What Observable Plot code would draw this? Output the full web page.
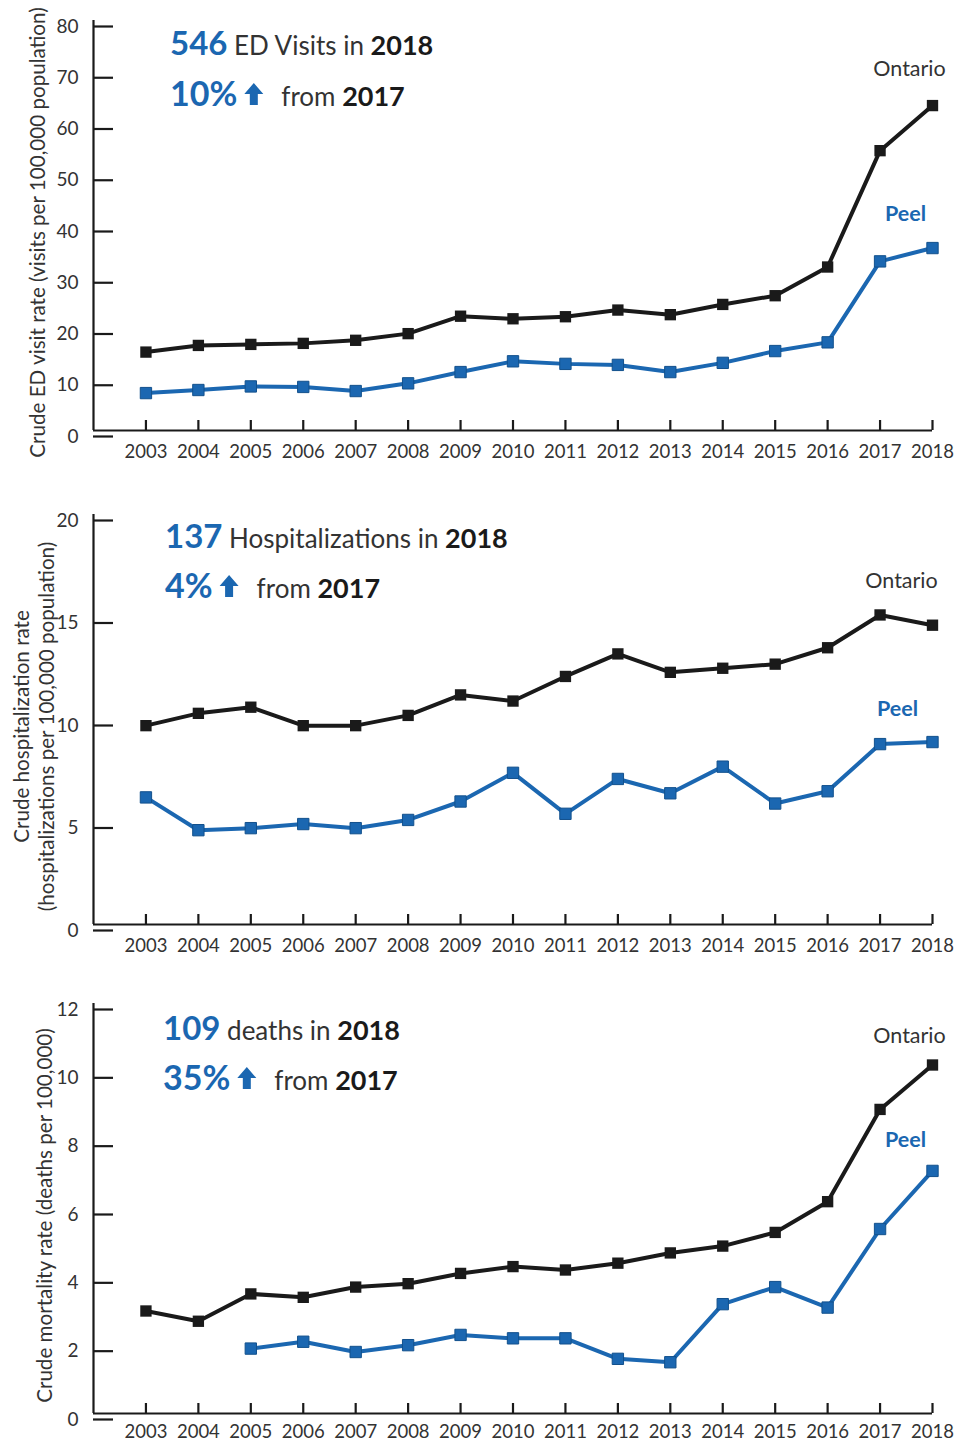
<!DOCTYPE html>
<html>
<head>
<meta charset="utf-8">
<script src="https://cdn.jsdelivr.net/npm/d3@7"></script>
<script src="https://cdn.jsdelivr.net/npm/@observablehq/plot@0.6"></script>
<style>
  body { margin: 0; background: #fff; }
  #wrap { position: relative; width: 956px; height: 1441px; overflow: hidden; font-family: Lato, "Open Sans", sans-serif; }
  #wrap > svg { position: absolute; left: 0; }
</style>
</head>
<body>
<div id="wrap"></div>
<script>
const years = [2003, 2004, 2005, 2006, 2007, 2008, 2009, 2010, 2011, 2012, 2013, 2014, 2015, 2016, 2017, 2018];

const edOntario = [15.3, 16.6, 16.8, 17.0, 17.6, 18.9, 22.3, 21.8, 22.2, 23.5, 22.6, 24.6, 26.3, 31.9, 54.6, 63.4];
const edPeel    = [7.3, 7.9, 8.6, 8.5, 7.7, 9.2, 11.4, 13.5, 13.0, 12.8, 11.4, 13.2, 15.5, 17.2, 33.0, 35.6];

const hospOntario = [9.7, 10.3, 10.6, 9.7, 9.7, 10.2, 11.2, 10.9, 12.1, 13.2, 12.3, 12.5, 12.7, 13.5, 15.1, 14.6];
const hospPeel    = [6.2, 4.6, 4.7, 4.9, 4.7, 5.1, 6.0, 7.4, 5.4, 7.1, 6.4, 7.7, 5.9, 6.5, 8.8, 8.9];

const deathOntario = [3.0, 2.7, 3.5, 3.4, 3.7, 3.8, 4.1, 4.3, 4.2, 4.4, 4.7, 4.9, 5.3, 6.2, 8.9, 10.2];
const deathPeel    = [null, null, 1.9, 2.1, 1.8, 2.0, 2.3, 2.2, 2.2, 1.6, 1.5, 3.2, 3.7, 3.1, 5.4, 7.1];

const edTicks = [0, 10, 20, 30, 40, 50, 60, 70, 80];
const hospTicks = [0, 5, 10, 15, 20];
const deathTicks = [0, 2, 4, 6, 8, 10, 12];

const edLabel = "Crude ED visit rate (visits per 100,000 population)";
const hospLabel = "Crude hospitalization rate\n(hospitalizations per 100,000 population)";
const deathLabel = "Crude mortality rate (deaths per 100,000)";

const seriesNames = ["Ontario", "Peel"];

const BLUE = "#1b67b1";
const BLACK = "#1a1a1a";
const GREY = "#333333";
const FONT = "Lato, 'Open Sans', sans-serif";

const charts = [
  {top: 0, domain: [0, 80], ticks: edTicks, label: edLabel, labelDx: -66, pad: 24,
   ont: edOntario, peel: edPeel, ontOff: [-23, -36], peelOff: [-27, -34],
   annot: {x: 170, y1: 55, y2: 106, big: "546", rest: " ED Visits in ", yr: "2018", pct: "10%"}},
  {top: 494, domain: [0, 20], ticks: hospTicks, label: hospLabel, labelDx: -82, pad: 24,
   ont: hospOntario, peel: hospPeel, ontOff: [-31, -44], peelOff: [-35, -33],
   annot: {x: 165, y1: 548 - 494, y2: 598 - 494, big: "137", rest: " Hospitalizations in ", yr: "2018", pct: "4%"}},
  {top: 983, domain: [0, 12], ticks: deathTicks, label: deathLabel, labelDx: -59, pad: 21,
   ont: deathOntario, peel: deathPeel, ontOff: [-23, -29], peelOff: [-27, -31],
   annot: {x: 163, y1: 1040 - 983, y2: 1090 - 983, big: "109", rest: " deaths in ", yr: "2018", pct: "35%"}}
];

const wrap = document.getElementById("wrap");

for (const c of charts) {
  const data = years.map((year, i) => ({year, ontario: c.ont[i], peel: c.peel[i]}));
  const last = data[data.length - 1];
  const svg = Plot.plot({
    width: 956,
    height: 458,
    marginLeft: 93,
    marginRight: 24,
    marginTop: 20,
    marginBottom: 28,
    style: {fontFamily: FONT, background: "transparent", overflow: "visible"},
    x: {domain: [years[0] - 1, years[years.length - 1]]},
    y: {domain: c.domain},
    marks: [
      Plot.ruleX([years[0] - 1], {stroke: BLACK, strokeWidth: 2.2}),
      Plot.ruleY([c.domain[0]], {stroke: BLACK, strokeWidth: 2.2}),
      Plot.axisY(c.ticks, {tickSize: -20, tickPadding: 35, strokeWidth: 2.2, stroke: BLACK, fill: GREY, fontSize: 19, dy: 6, label: null}),
      Plot.axisX(years, {tickSize: -10, tickPadding: c.pad, strokeWidth: 2.2, stroke: BLACK, fill: GREY, fontSize: 18.5, tickFormat: d => String(d), label: null}),
      Plot.text([c.label], {text: d => d, frameAnchor: "left", rotate: -90, lineAnchor: "top", textAnchor: "middle", dx: c.labelDx, dy: 7, fontSize: 20.6, lineHeight: 1.2, fill: GREY}),
      Plot.line(data, {x: "year", y: "ontario", stroke: BLACK, strokeWidth: 4}),
      Plot.dot(data, {x: "year", y: "ontario", symbol: "square", r: 6.4, fill: BLACK, stroke: null}),
      Plot.line(data, {x: "year", y: "peel", stroke: BLUE, strokeWidth: 4, filter: d => d.peel != null}),
      Plot.dot(data, {x: "year", y: "peel", symbol: "square", r: 6.4, fill: BLUE, stroke: "#12508c", strokeWidth: 1, filter: d => d.peel != null}),
      Plot.text([last], {x: "year", y: "ontario", text: () => seriesNames[0], dx: c.ontOff[0], dy: c.ontOff[1], fontSize: 21.5, fill: GREY, textAnchor: "middle"}),
      Plot.text([last], {x: "year", y: "peel", text: () => seriesNames[1], dx: c.peelOff[0], dy: c.peelOff[1], fontSize: 21.5, fontWeight: "bold", fill: BLUE, textAnchor: "middle"})
    ]
  });
  svg.style.top = c.top + "px";
  wrap.appendChild(svg);

  const s = d3.select(svg);
  const a = c.annot;
  const t1 = s.append("text").attr("x", a.x).attr("y", a.y1)
    .attr("text-anchor", "start").attr("font-family", FONT).attr("xml:space", "preserve");
  t1.append("tspan").attr("font-size", 33).attr("font-weight", "bold").attr("fill", BLUE).text(a.big);
  t1.append("tspan").attr("font-size", 26).attr("fill", GREY).text(a.rest);
  t1.append("tspan").attr("font-size", 27).attr("font-weight", "bold").attr("fill", BLACK).text(a.yr);

  const t2 = s.append("text").attr("x", a.x).attr("y", a.y2)
    .attr("text-anchor", "start").attr("font-family", FONT);
  t2.append("tspan").attr("font-size", 34).attr("font-weight", "bold").attr("fill", BLUE).text(a.pct);
  const pctEnd = a.x + t2.node().getComputedTextLength();

  // up arrow glyph drawn next to the percentage
  const ax = pctEnd + 7, w = 19, stem = 8, top = a.y2 - 23, mid = a.y2 - 12, bot = a.y2 - 1;
  s.append("path")
    .attr("d", `M${ax + w / 2},${top} L${ax + w},${mid} L${ax + w / 2 + stem / 2},${mid} L${ax + w / 2 + stem / 2},${bot} L${ax + w / 2 - stem / 2},${bot} L${ax + w / 2 - stem / 2},${mid} L${ax},${mid} Z`)
    .attr("fill", BLUE);

  const t3 = s.append("text").attr("x", ax + w + 18).attr("y", a.y2)
    .attr("text-anchor", "start").attr("font-family", FONT).attr("xml:space", "preserve");
  t3.append("tspan").attr("font-size", 26).attr("fill", GREY).text("from ");
  t3.append("tspan").attr("font-size", 27).attr("font-weight", "bold").attr("fill", BLACK).text("2017");
}
</script>
</body>
</html>
